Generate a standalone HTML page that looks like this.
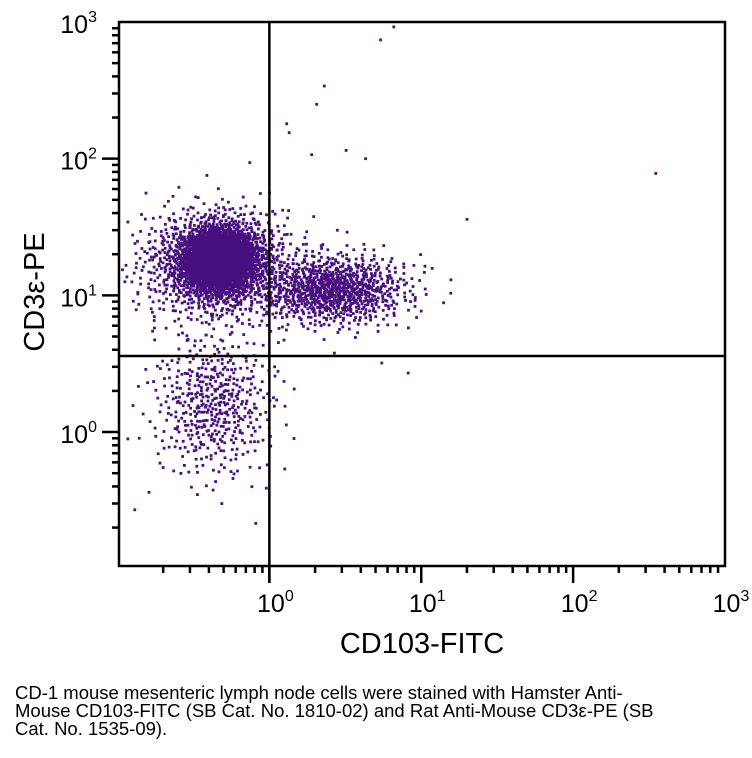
<!DOCTYPE html>
<html><head><meta charset="utf-8"><style>
body{margin:0;background:#fff;width:752px;height:758px;overflow:hidden;font-family:"Liberation Sans",sans-serif}
#cap{position:absolute;left:15px;top:684px;font-size:18.5px;line-height:18px;color:#000;width:740px;white-space:nowrap}
</style></head><body>
<svg id="chart" width="752" height="680" style="position:absolute;left:0;top:0"></svg>
<div id="cap">CD-1 mouse mesenteric lymph node cells were stained with Hamster Anti-<br>Mouse CD103-FITC (SB Cat. No. 1810-02) and Rat Anti-Mouse CD3ε-PE (SB<br>Cat. No. 1535-09).</div>
<script>
// decades shown on axes
const xTickExps=[0,1,2,3];
const yTickExps=[0,1,2,3];
// gates (data units)
const gateX=1.0;
const gateY=3.6;
// populations: centers in data units, spread in log10 units, counts
const popCenterX=[0.47,0.45,2.6,0.43];
const popCenterY=[18,17,11,1.6];
const popSpreadX=[0.12,0.26,0.25,0.2];
const popSpreadY=[0.12,0.2,0.13,0.27];
const popCount=[2200,1100,900,480];
// sparse events (data units)
const outX=[5.4,6.6,2.3,2.05,1.35,1.3,3.2,1.9,4.3,350,20,8.2,5.5,0.13,0.2];
const outY=[740,920,340,250,155,180,115,107,100,78,36,2.7,3.2,0.27,0.55];

const svg=document.getElementById('chart');
const NS='http://www.w3.org/2000/svg';
const L=119,R=725,T=22,B=566;
const xmin=-0.99,xmax=3,ymin=-0.98,ymax=3;
function sx(v){return L+(Math.log10(v)-xmin)/(xmax-xmin)*(R-L);}
function sy(v){return B-(Math.log10(v)-ymin)/(ymax-ymin)*(B-T);}
function mk(t,a){const e=document.createElementNS(NS,t);for(const k in a)e.setAttribute(k,a[k]);svg.appendChild(e);return e;}
// deterministic Halton sequence
function halton(i,b){let f=1,r=0;while(i>0){f/=b;r+=f*(i%b);i=Math.floor(i/b);}return r;}
const g=mk('g',{fill:'#48107f'});


let idx=1;
function dot(x,y){
  const px=sx(x),py=sy(y);
  if(px<L+1||px>R-1||py<T+1||py>B-1)return;
  const r=document.createElementNS(NS,'rect');
  r.setAttribute('x',(px-1.4).toFixed(1));r.setAttribute('y',(py-1.4).toFixed(1));
  r.setAttribute('width',2.8);r.setAttribute('height',2.8);
  g.appendChild(r);
}
for(let p=0;p<popCount.length;p++){
  for(let k=0;k<popCount[p];k++){
    const u1=halton(idx,2)||0.5,u2=halton(idx,3);idx++;
    const rad=Math.sqrt(-2*Math.log(u1));
    const dx=rad*Math.cos(2*Math.PI*u2),dy=rad*Math.sin(2*Math.PI*u2);
    dot(popCenterX[p]*Math.pow(10,dx*popSpreadX[p]),popCenterY[p]*Math.pow(10,dy*popSpreadY[p]));
  }
}
for(let i=0;i<outX.length;i++)dot(outX[i],outY[i]);
// frame
const fr=mk('rect',{x:L,y:T,width:R-L,height:B-T,fill:'none',stroke:'#000','stroke-width':2.5});

// gates
const gv=mk('line',{x1:sx(gateX),x2:sx(gateX),y1:T,y2:B+17,stroke:'#000','stroke-width':2.5});

const gh=mk('line',{x1:L,x2:R,y1:sy(gateY),y2:sy(gateY),stroke:'#000','stroke-width':2.5});

// ticks
for(let e=-1;e<3;e++)for(let m=1;m<10;m++){
  const v=m*Math.pow(10,e);
  const px=sx(v);if(px>=L-0.5&&px<=R+0.5){const len=m==1?17:7;
    const t=mk('line',{x1:px,x2:px,y1:B,y2:B+len,stroke:'#000','stroke-width':2.5});
    }
  const py=sy(v);if(py<=B+0.5&&py>=T-0.5){const len=m==1?17:7;
    const t=mk('line',{x1:L-len,x2:L,y1:py,y2:py,stroke:'#000','stroke-width':2.5});
    }
}
// tick labels
function lab(x,y,e,anchor,name){
  const t=mk('text',{x:x,y:y,'font-size':25,'text-anchor':anchor,fill:'#000'});
  
  t.innerHTML='10<tspan dy="-11" font-size="16">'+e+'</tspan>';
}
xTickExps.forEach(e=>lab(sx(Math.pow(10,e))+6,612,e,'middle','x-tick-label'));
yTickExps.forEach(e=>lab(L-22,sy(Math.pow(10,e))+11,e,'end','y-tick-label'));
const xt=mk('text',{x:422,y:653,'font-size':29,'text-anchor':'middle',fill:'#000'});
xt.textContent='CD103-FITC';

const yt=mk('text',{x:0,y:0,'font-size':29,'text-anchor':'middle',fill:'#000',transform:'translate(44,292) rotate(-90)'});
yt.textContent='CD3ε-PE';

</script>
</body></html>
